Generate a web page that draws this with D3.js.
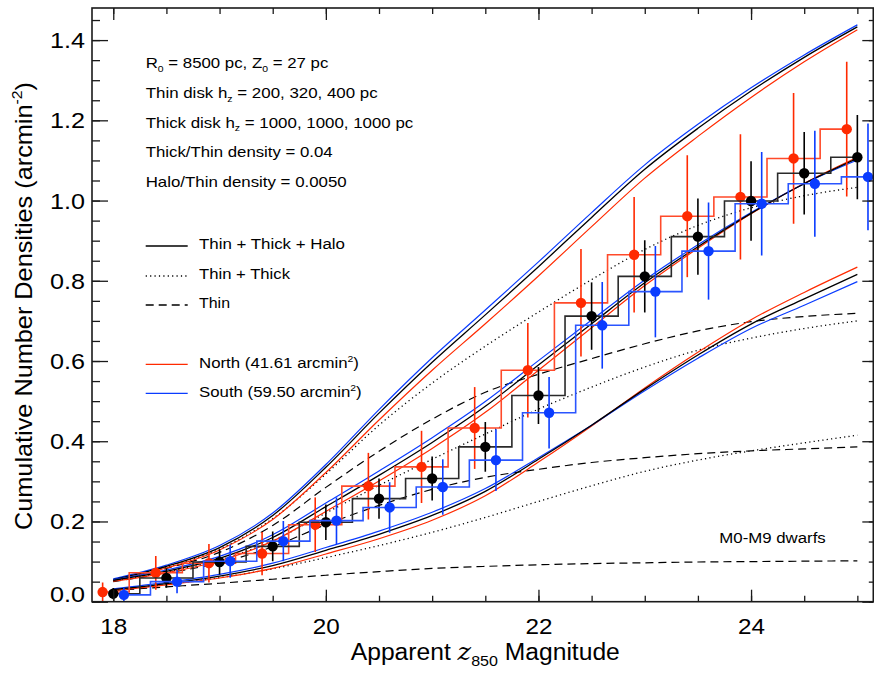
<!DOCTYPE html>
<html><head><meta charset="utf-8">
<script src="https://cdn.jsdelivr.net/npm/d3@7"></script>
<style>body{margin:0;background:#fff}svg{display:block}</style>
</head><body>
<svg id="c" width="874" height="673"></svg>
<script>
// ---------- data ----------
const modelMag = [18,18.5,19,19.5,20,20.5,21,21.5,22,22.5,23,23.5,24,24.5,25];
// h_z = 400 pc model
const topSolidK = [0.055,0.088,0.135,0.215,0.335,0.470,0.597,0.715,0.835,0.958,1.078,1.180,1.273,1.357,1.433];
const topSolidB = [0.057,0.091,0.140,0.221,0.342,0.479,0.608,0.727,0.847,0.970,1.089,1.190,1.281,1.363,1.438];
const topSolidR = [0.053,0.084,0.129,0.205,0.322,0.453,0.577,0.693,0.812,0.935,1.056,1.160,1.257,1.346,1.426];
const topDotted = [0.054,0.086,0.131,0.207,0.318,0.440,0.545,0.637,0.722,0.803,0.878,0.938,0.982,1.012,1.033];
const topDashed = [0.053,0.083,0.123,0.190,0.285,0.375,0.455,0.522,0.567,0.606,0.643,0.675,0.698,0.711,0.719];
// h_z = 320 pc model
const midSolidK = [0.053,0.076,0.108,0.160,0.237,0.315,0.397,0.487,0.590,0.693,0.795,0.885,0.968,1.042,1.105];
const midSolidB = [0.055,0.079,0.113,0.167,0.246,0.326,0.409,0.499,0.601,0.702,0.802,0.890,0.970,1.042,1.101];
const midSolidR = [0.051,0.072,0.102,0.151,0.225,0.301,0.382,0.472,0.577,0.683,0.788,0.881,0.967,1.043,1.108];
const midDotted = [0.052,0.074,0.104,0.152,0.221,0.290,0.355,0.418,0.480,0.535,0.585,0.627,0.657,0.681,0.700];
const midDashed = [0.050,0.071,0.097,0.137,0.192,0.240,0.280,0.310,0.330,0.347,0.359,0.369,0.376,0.381,0.386];
// h_z = 200 pc model
const lowSolidK = [0.030,0.045,0.064,0.090,0.128,0.168,0.215,0.275,0.355,0.440,0.530,0.615,0.692,0.755,0.816];
const lowSolidB = [0.032,0.048,0.068,0.096,0.135,0.176,0.223,0.282,0.359,0.440,0.526,0.607,0.681,0.739,0.798];
const lowSolidR = [0.028,0.042,0.059,0.083,0.119,0.157,0.203,0.264,0.348,0.438,0.533,0.622,0.703,0.771,0.834];
const lowDotted = [0.029,0.043,0.060,0.082,0.110,0.140,0.173,0.210,0.250,0.289,0.325,0.353,0.376,0.396,0.415];
const lowDashed = [0.028,0.037,0.046,0.056,0.066,0.075,0.083,0.088,0.092,0.095,0.097,0.099,0.100,0.101,0.102];

// observed cumulative densities
const northMag = [17.9,18.4,18.9,19.4,19.9,20.4,20.9,21.4,21.9,22.4,22.9,23.4,23.9,24.4,24.9];
const northVal = [0.024,0.072,0.096,0.120,0.192,0.288,0.336,0.433,0.577,0.745,0.865,0.961,1.009,1.105,1.178];
const northErr = [0.024,0.042,0.048,0.054,0.068,0.083,0.090,0.102,0.118,0.134,0.144,0.152,0.156,0.163,0.168];
const allMag = [18,18.5,19,19.5,20,20.5,21,21.5,22,22.5,23,23.5,24,24.5,25];
const allVal = [0.020,0.059,0.099,0.138,0.198,0.257,0.307,0.386,0.514,0.712,0.811,0.910,0.999,1.068,1.108];
const allErr = [0.014,0.024,0.031,0.037,0.044,0.050,0.055,0.062,0.071,0.084,0.090,0.095,0.099,0.103,0.105];
const southMag = [18.1,18.6,19.1,19.6,20.1,20.6,21.1,21.6,22.1,22.6,23.1,23.6,24.1,24.6,25.1];
const southVal = [0.017,0.050,0.101,0.151,0.202,0.235,0.286,0.353,0.471,0.689,0.773,0.874,0.992,1.042,1.059];
const southErr = [0.017,0.029,0.041,0.050,0.058,0.063,0.069,0.077,0.089,0.108,0.114,0.121,0.129,0.132,0.133];

const xMajor = [18,20,22,24];
const xMinor = [18,18.5,19,19.5,20,20.5,21,21.5,22,22.5,23,23.5,24,24.5,25];
const yMajor = [0,0.2,0.4,0.6,0.8,1.0,1.2,1.4];
const yMinor = [0,0.05,0.1,0.15,0.2,0.25,0.3,0.35,0.4,0.45,0.5,0.55,0.6,0.65,0.7,0.75,0.8,0.85,0.9,0.95,1.0,1.05,1.1,1.15,1.2,1.25,1.3,1.35,1.4,1.45];

// ---------- drawing ----------
const RED = "#ff2a00", BLUE = "#0a3cff", BLACK = "#000";
const FONT = "'Liberation Sans', Arial, Helvetica, sans-serif";
const svg = d3.select("#c");
const L = 92, R = 873.3, T = 8, B = 601.7;
const x = d3.scaleLinear().domain([17.8, 25.15]).range([L, R]);
const y = d3.scaleLinear().domain([0, 1.48]).range([B, T]);

const plot = svg.append("g");
plot.append("clipPath").attr("id","clip").append("rect")
  .attr("x",L).attr("y",T).attr("width",R-L).attr("height",B-T);
const g = plot.append("g").attr("clip-path","url(#clip)");

const curve = d3.line().x((d,i)=>x(modelMag[i])).y(d=>y(d)).curve(d3.curveMonotoneX);
function model(arr, color, dash, w){
  g.append("path").attr("d", curve(arr)).attr("fill","none")
   .attr("stroke", color).attr("stroke-width", w||1.2)
   .attr("stroke-dasharray", dash||null);
}
const DOT = "1.2,3.2", DASH = "8,5";
[[topDashed],[midDashed],[lowDashed]].forEach(a=>model(a[0], BLACK, DASH, 1.2));
[[topDotted],[midDotted],[lowDotted]].forEach(a=>model(a[0], BLACK, DOT, 1.3));
[[topSolidR,topSolidK,topSolidB],[midSolidR,midSolidK,midSolidB],[lowSolidR,lowSolidK,lowSolidB]].forEach(s=>{
  model(s[0], RED); model(s[2], BLUE); model(s[1], BLACK, null, 1.3);
});

// observed data
function observed(mag, val, err, color, stepColor){
  const step = d3.line().x((d,i)=>x(mag[i])).y(d=>y(d)).curve(d3.curveStep);
  g.append("path").attr("d", step(val)).attr("fill","none")
   .attr("stroke", stepColor).attr("stroke-width",1.6);
  g.selectAll(null).data(val).enter().append("line")
   .attr("x1",(d,i)=>x(mag[i])).attr("x2",(d,i)=>x(mag[i]))
   .attr("y1",(d,i)=>y(d-err[i])).attr("y2",(d,i)=>y(d+err[i]))
   .attr("stroke", color).attr("stroke-width",1.6);
  g.selectAll(null).data(val).enter().append("circle")
   .attr("cx",(d,i)=>x(mag[i])).attr("cy",d=>y(d)).attr("r",5.2)
   .attr("fill", color);
}
observed(northMag, northVal, northErr, RED, "#ff4a2a");
observed(allMag, allVal, allErr, BLACK, "#2a2a2a");
observed(southMag, southVal, southErr, BLUE, "#2a55ff");

// ---------- axes ----------
const ax = svg.append("g").attr("font-family", FONT);
function styleAxis(sel){
  sel.select(".domain").remove();
  sel.selectAll(".tick line").attr("stroke","#1a1a1a").attr("stroke-width",1.3);
}
ax.append("g").attr("transform",`translate(0,${B})`)
  .call(d3.axisBottom(x).tickValues(xMinor).tickSize(-6).tickFormat("")).call(styleAxis);
ax.append("g").attr("transform",`translate(0,${B})`)
  .call(d3.axisBottom(x).tickValues(xMajor).tickSize(-12).tickPadding(17).tickFormat(d3.format("d")))
  .call(styleAxis)
  .call(s=>s.selectAll("text").attr("font-size",22).attr("fill","#000").attr("font-family",FONT)
     .attr("textLength",27).attr("lengthAdjust","spacingAndGlyphs"));
ax.append("g").attr("transform",`translate(0,${T})`)
  .call(d3.axisTop(x).tickValues(xMinor).tickSize(-6).tickFormat("")).call(styleAxis);
ax.append("g").attr("transform",`translate(0,${T})`)
  .call(d3.axisTop(x).tickValues(xMajor).tickSize(-12).tickFormat("")).call(styleAxis);
ax.append("g").attr("transform",`translate(${L},0)`)
  .call(d3.axisLeft(y).tickValues(yMinor).tickSize(-8).tickFormat("")).call(styleAxis);
ax.append("g").attr("transform",`translate(${L},0)`)
  .call(d3.axisLeft(y).tickValues(yMajor).tickSize(-16).tickPadding(7).tickFormat(d3.format(".1f")))
  .call(styleAxis)
  .call(s=>s.selectAll("text").attr("font-size",22).attr("fill","#000").attr("font-family",FONT)
     .attr("textLength",35).attr("lengthAdjust","spacingAndGlyphs")
     .attr("dy",d=> d===0 ? "-0.02em" : "0.34em"));
ax.append("g").attr("transform",`translate(${R},0)`)
  .call(d3.axisRight(y).tickValues(yMinor).tickSize(-4.5).tickFormat("")).call(styleAxis);
ax.append("g").attr("transform",`translate(${R},0)`)
  .call(d3.axisRight(y).tickValues(yMajor).tickSize(-11).tickFormat("")).call(styleAxis);
svg.append("rect").attr("x",L).attr("y",T).attr("width",R-L).attr("height",B-T)
  .attr("fill","none").attr("stroke","#1a1a1a").attr("stroke-width",1.6);

// ---------- titles ----------
const xt = svg.append("text").attr("x",485.3).attr("y",660).attr("text-anchor","middle")
  .attr("font-family",FONT).attr("font-size",23).attr("fill","#000")
  .attr("textLength",269).attr("lengthAdjust","spacingAndGlyphs");
xt.append("tspan").text("Apparent ");
xt.append("tspan").text("z").attr("font-style","italic").attr("font-family","'DejaVu Serif', serif").attr("font-size",24);
xt.append("tspan").text("850").attr("font-size",15).attr("dy",6);
xt.append("tspan").text(" Magnitude").attr("dy",-6);

const yt = svg.append("text").attr("transform","translate(32,306) rotate(-90)").attr("text-anchor","middle")
  .attr("font-family",FONT).attr("font-size",24).attr("fill","#000")
  .attr("textLength",448).attr("lengthAdjust","spacingAndGlyphs");
yt.append("tspan").text("Cumulative Number Densities (arcmin");
yt.append("tspan").text("-2").attr("font-size",15).attr("dy",-10);
yt.append("tspan").text(")").attr("dy",10);

// ---------- annotations ----------
const ann = svg.append("g").attr("font-family",FONT).attr("fill","#000");
function rich(parent, xx, yy, parts, size, len){
  const t = parent.append("text").attr("x",xx).attr("y",yy).attr("font-size",size);
  if(len) t.attr("textLength",len).attr("lengthAdjust","spacingAndGlyphs");
  let shift = 0;
  parts.forEach(p=>{
    const s = t.append("tspan").text(p[0]);
    const target = p[1]==="sub" ? 3.5 : p[1]==="sup" ? -6 : 0;
    if(target!==shift){ s.attr("dy", target-shift); shift = target; }
    if(p[1]) s.attr("font-size", size*0.62);
  });
  return t;
}
const ax0 = 145.7;
rich(ann, ax0, 68, [["R"],["0","sub"],[" = 8500 pc, Z"],["0","sub"],[" = 27 pc"]], 14.5, 182.6);
rich(ann, ax0, 98, [["Thin disk h"],["z","sub"],[" = 200, 320, 400 pc"]], 14.5, 232);
rich(ann, ax0, 127.7, [["Thick disk h"],["z","sub"],[" = 1000, 1000, 1000 pc"]], 14.5, 267.6);
rich(ann, ax0, 157, [["Thick/Thin density = 0.04"]], 14.5, 187);
rich(ann, ax0, 187, [["Halo/Thin density = 0.0050"]], 14.5, 201);

// legend
const legendNames = ["Thin + Thick + Halo","Thin + Thick","Thin"];
const legendDash = [null, DOT, DASH];
const legendY = [246, 276, 305];
const legendTextY = [249, 279, 308];
const legendLen = [146, 91, 31];
legendNames.forEach((n,i)=>{
  ann.append("line").attr("x1",ax0).attr("x2",187.7).attr("y1",legendY[i]).attr("y2",legendY[i])
    .attr("stroke",BLACK).attr("stroke-width",1.3).attr("stroke-dasharray",legendDash[i]);
  rich(ann, 199, legendTextY[i], [[n]], 15.5, legendLen[i]);
});
const regionNames = ["North (41.61 arcmin","South (59.50 arcmin"];
const regionColors = [RED, BLUE];
const regionLineY = [364.3, 393.3];
const regionTextY = [368.3, 397.3];
const regionLen = [160, 162.7];
regionNames.forEach((n,i)=>{
  ann.append("line").attr("x1",ax0).attr("x2",187.7).attr("y1",regionLineY[i]).attr("y2",regionLineY[i])
    .attr("stroke",regionColors[i]).attr("stroke-width",1.3);
  rich(ann, 199, regionTextY[i], [[n],["2","sup"],[")"]], 15.5, regionLen[i]);
});
rich(ann, 719.3, 543.3, [["M0-M9 dwarfs"]], 15.5, 106.4);
</script>
</body></html>
